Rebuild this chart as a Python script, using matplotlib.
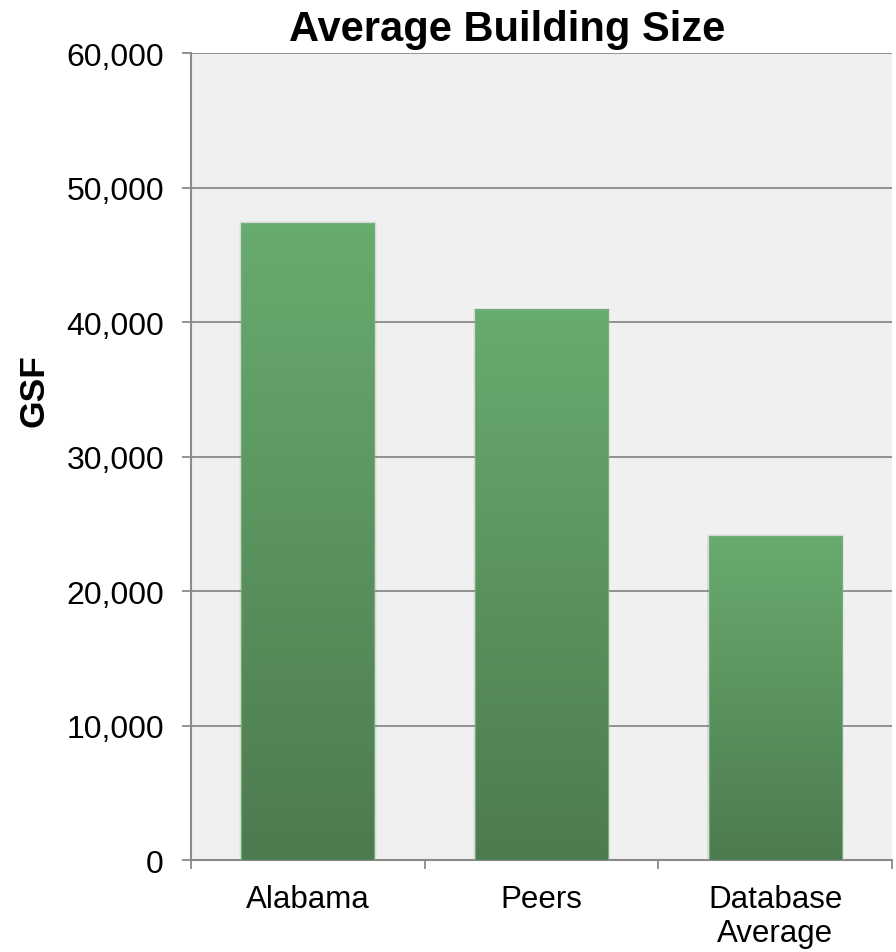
import numpy as np
import matplotlib.pyplot as plt
from matplotlib.colors import LinearSegmentedColormap
from matplotlib.patches import Rectangle
from matplotlib.ticker import FuncFormatter

categories = ['Alabama', 'Peers', 'Database\nAverage']
gsf = [47350, 40900, 24070]
yticks = [0, 10000, 20000, 30000, 40000, 50000, 60000]

plt.rcParams['font.family'] = ['Liberation Sans', 'DejaVu Sans']

fig = plt.figure(figsize=(8.96, 9.53), dpi=100)
ax = fig.add_axes([0.2132, 0.0965, 0.7824, 0.8468])
ax.set_facecolor('#f0f0f0')

x = np.arange(len(categories))
bars = ax.bar(x, gsf, width=0.57, color='none', edgecolor='#72b078',
              linewidth=0.8, zorder=4)

# vertical green gradient inside each bar, dark at the base
grad = LinearSegmentedColormap.from_list('bar_green', ['#4d7b50', '#68ab6e'])
ramp = np.linspace(0, 1, 256).reshape(-1, 1)
for rect in bars:
    x0, w, h = rect.get_x(), rect.get_width(), rect.get_height()
    ax.imshow(ramp, cmap=grad, origin='lower', aspect='auto',
              extent=[x0, x0 + w, 0, h], zorder=3, interpolation='bilinear')
    # faint shadow around the bar
    for grow, alpha in [(0.009, 0.07), (0.005, 0.10)]:
        ax.add_patch(Rectangle((x0 - grow, 0), w + 2 * grow, h + grow * 60000 / 4,
                               facecolor='#777777', edgecolor='none',
                               alpha=alpha, zorder=2.5))

ax.set_xlim(-0.5, 2.5)
ax.set_ylim(0, 60000)

ax.set_yticks(yticks)
ax.yaxis.set_major_formatter(FuncFormatter(lambda v, p: f'{v:,.0f}'))
ax.tick_params(axis='y', labelsize=23, length=6.5, width=1.3,
               color='#8a8a8a', pad=13)

ax.set_xticks([-0.5, 0.5, 1.5, 2.5])
ax.set_xticklabels([])
ax.set_xticks(x, minor=True)
ax.set_xticklabels(categories, minor=True, fontsize=22.5, linespacing=1.2)
ax.tick_params(axis='x', which='major', length=6.5, width=1.3, color='#8a8a8a')
ax.tick_params(axis='x', which='minor', length=0, pad=17)

ax.yaxis.grid(True, color='#8a8a8a', linewidth=1.3)
ax.set_axisbelow(True)
for side in ['top', 'right']:
    ax.spines[side].set_visible(False)
for side in ['left', 'bottom']:
    ax.spines[side].set_color('#8a8a8a')
    ax.spines[side].set_linewidth(1.5)

fig.text(0.566, 1 - 41 / 953, 'Average Building Size', ha='center',
         va='baseline', fontsize=30, fontweight='bold')
fig.text(34 / 896, 1 - 391 / 953, 'GSF', rotation=90, ha='center',
         va='center', fontsize=25.5, fontweight='bold')

fig.savefig('out.png', dpi=100)
